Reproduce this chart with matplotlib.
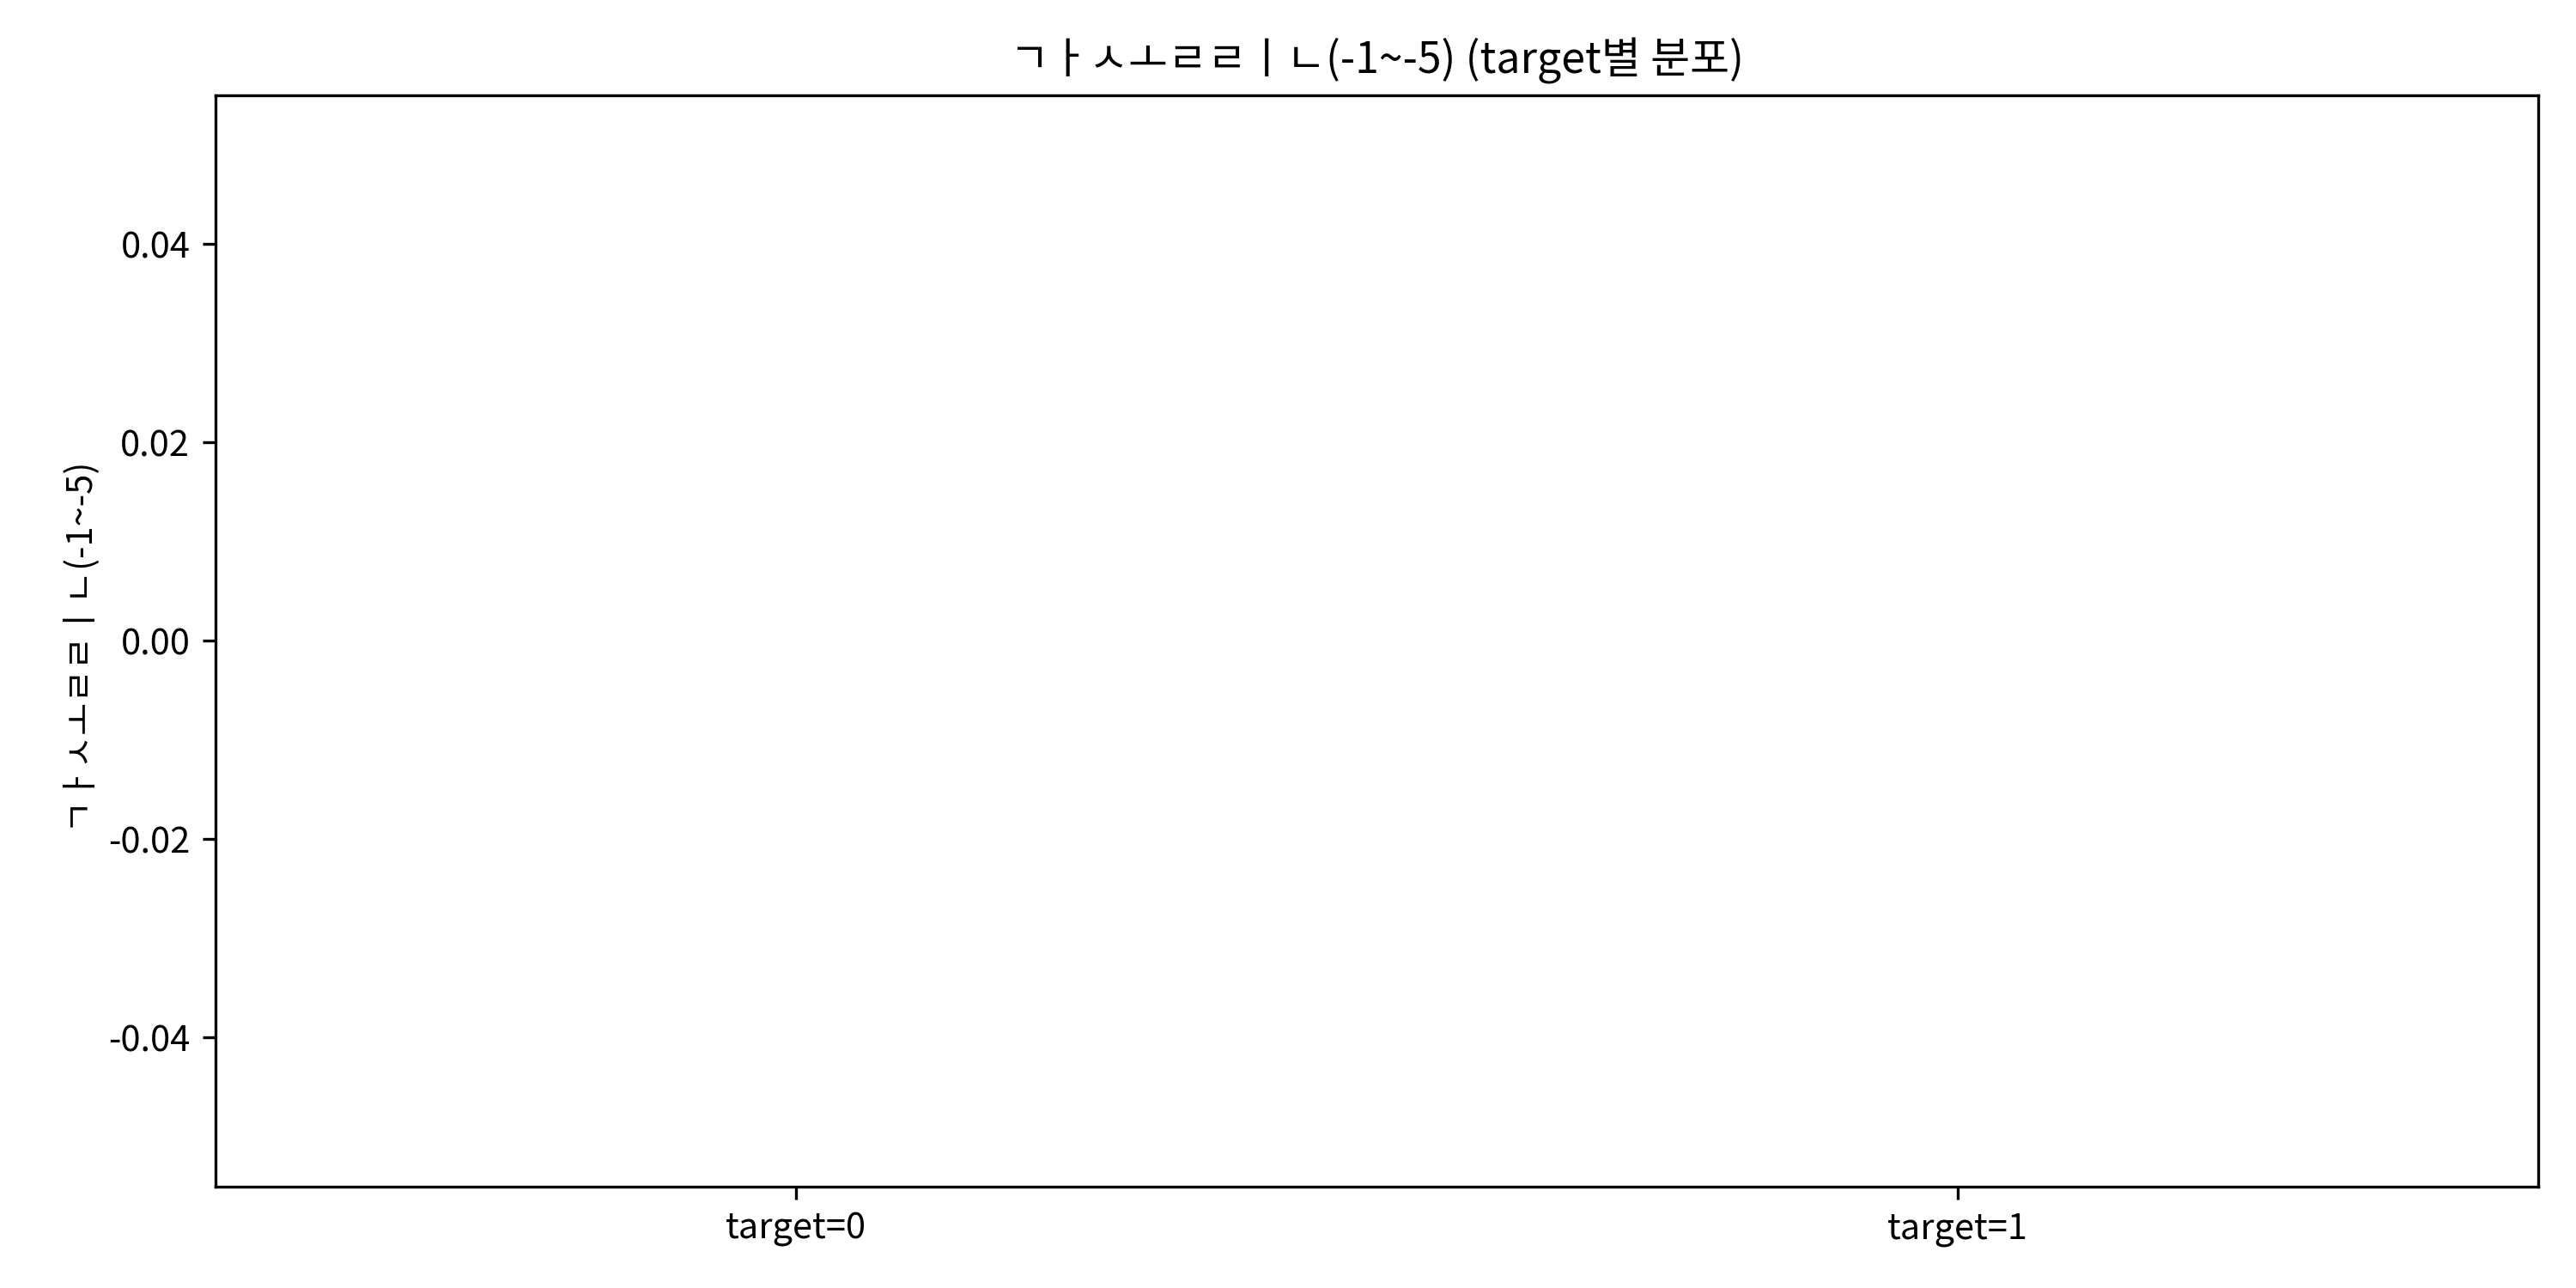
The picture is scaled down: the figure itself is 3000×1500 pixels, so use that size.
import matplotlib
matplotlib.use("Agg")
import matplotlib.pyplot as plt

plt.rcParams['font.family'] = ['Noto Sans CJK KR', 'DejaVu Sans']
plt.rcParams['axes.unicode_minus'] = False

# column name shows up split into separate jamo in the original
col = "ㄱㅏㅅㅗㄹㄹㅣㄴ(-1~-5)"
groups = ["target=0", "target=1"]
values = [[], []]  # no data in either group

fig, ax = plt.subplots(figsize=(10, 5), dpi=300)
ax.boxplot(values, tick_labels=groups)
ax.set_ylim(-0.055, 0.055)
ax.set_title(col + " (target별 분포)")
ax.set_ylabel(col)
plt.subplots_adjust(left=0.0835, right=0.9853, top=0.926, bottom=0.079)
plt.savefig("out.png", dpi=300)
